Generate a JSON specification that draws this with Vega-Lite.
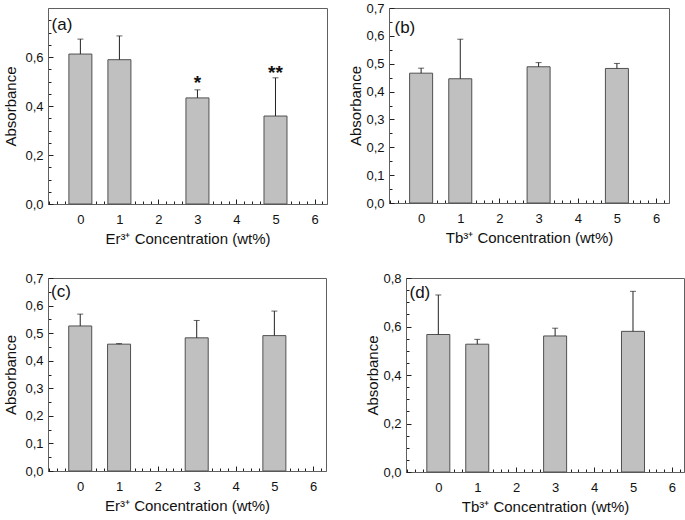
{
  "$schema": "https://vega.github.io/schema/vega-lite/v6.json",
  "padding": {"left": 3, "top": 1, "right": 2, "bottom": 2},
  "background": "white",
  "config": {
    "font": "Liberation Sans",
    "view": {"stroke": "#606060", "strokeWidth": 1},
    "scale": {"continuousPadding": 0},
    "axis": {"domainColor": "#606060", "tickColor": "#202020", "ticks": true, "tickWidth": 1, "tickCount": 100, "labelFont": "Liberation Sans", "labelFontSize": 13, "labelColor": "#111111", "titleFont": "Liberation Sans", "titleFontSize": 15, "titleFontWeight": "normal", "titleColor": "#111111", "grid": false, "labelOverlap": false, "labelFlush": false},
    "axisX": {"labelPadding": 14, "titlePadding": 3},
    "axisY": {"labelPadding": 10, "titlePadding": 2}
  },
  "datasets": {
    "a": [{"conc": 0, "abs": 0.612, "upper": 0.673}, {"conc": 1, "abs": 0.589, "upper": 0.686}, {"conc": 3, "abs": 0.433, "upper": 0.466}, {"conc": 5, "abs": 0.359, "upper": 0.515}],
    "b": [{"conc": 0, "abs": 0.466, "upper": 0.484}, {"conc": 1, "abs": 0.446, "upper": 0.588}, {"conc": 3, "abs": 0.489, "upper": 0.504}, {"conc": 5, "abs": 0.483, "upper": 0.501}],
    "c": [{"conc": 0, "abs": 0.526, "upper": 0.569}, {"conc": 1, "abs": 0.46, "upper": 0.462}, {"conc": 3, "abs": 0.483, "upper": 0.546}, {"conc": 5, "abs": 0.491, "upper": 0.58}],
    "d": [{"conc": 0, "abs": 0.567, "upper": 0.73}, {"conc": 1, "abs": 0.527, "upper": 0.547}, {"conc": 3, "abs": 0.561, "upper": 0.593}, {"conc": 5, "abs": 0.58, "upper": 0.745}],
    "labels": [{"panel": "a", "conc": -0.74, "abs": 0.73, "label": "(a)"}, {"panel": "b", "conc": -0.68, "abs": 0.63, "label": "(b)"}, {"panel": "c", "conc": -0.75, "abs": 0.65, "label": "(c)"}, {"panel": "d", "conc": -0.74, "abs": 0.74, "label": "(d)"}],
    "stars": [{"conc": 3, "abs": 0.47, "label": "*"}, {"conc": 5, "abs": 0.511, "label": "**"}]
  },
  "columns": 1,
  "align": "none",
  "spacing": 24,
  "concat": [
    {
      "spacing": 20,
      "hconcat": [
        {
          "width": 279, "height": 196,
          "encoding": {
            "x": {"field": "conc", "type": "quantitative", "scale": {"domain": [-0.83, 6.32], "nice": false, "zero": false, "padding": 0},
                  "axis": {"title": "Er³⁺ Concentration (wt%)", "tickCount": 100, "labelOverlap": false, "values": [-0.8,-0.6,-0.4,-0.2,0,0.2,0.4,0.6,0.8,1,1.2,1.4,1.6,1.8,2,2.2,2.4,2.6,2.8,3,3.2,3.4,3.6,3.8,4,4.2,4.4,4.6,4.8,5,5.2,5.4,5.6,5.8,6,6.2],
                           "labelExpr": "abs(datum.value-round(datum.value))<0.01 ? format(datum.value,'d') : ''",
                           "tickSize": {"condition": {"test": "abs(datum.value-round(datum.value))<0.01", "value": -5}, "value": -3}}},
            "y": {"field": "abs", "type": "quantitative", "scale": {"domain": [0, 0.8], "nice": false, "padding": 0},
                  "axis": {"title": "Absorbance", "titlePadding": 6, "tickCount": 100, "labelOverlap": false, "values": [0,0.05,0.1,0.15,0.2,0.25,0.3,0.35,0.4,0.45,0.5,0.55,0.6,0.65,0.7,0.75],
                           "labelExpr": "abs(datum.value*5-round(datum.value*5))<0.001 ? replace(format(datum.value,'.1f'),'.',',') : ''",
                           "tickSize": {"condition": {"test": "abs(datum.value*5-round(datum.value*5))<0.001", "value": -5}, "value": -3}}}
          },
          "layer": [
            {"data": {"name": "a"}, "mark": {"type": "bar", "orient": "vertical", "width": 23, "fill": "#c0c0c0", "stroke": "#505050", "strokeWidth": 1}},
            {"data": {"name": "a"}, "mark": {"type": "rule", "color": "#222222", "strokeWidth": 1}, "encoding": {"y2": {"field": "upper"}}},
            {"data": {"name": "a"}, "mark": {"type": "tick", "orient": "horizontal", "color": "#222222", "thickness": 1, "size": 6}, "encoding": {"y": {"field": "upper", "type": "quantitative"}}},
            {"data": {"name": "labels"}, "transform": [{"filter": "datum.panel == 'a'"}], "mark": {"type": "text", "align": "left", "baseline": "middle", "fontSize": 17, "color": "#111111"}, "encoding": {"text": {"field": "label"}}},
            {"data": {"name": "stars"}, "mark": {"type": "text", "align": "center", "baseline": "alphabetic", "fontSize": 19, "fontWeight": "bold", "color": "#111111"}, "encoding": {"text": {"field": "label"}}}
          ]
        },
        {
          "width": 280, "height": 195,
          "encoding": {
            "x": {"field": "conc", "type": "quantitative", "scale": {"domain": [-0.82, 6.33], "nice": false, "zero": false, "padding": 0},
                  "axis": {"title": "Tb³⁺ Concentration (wt%)", "tickCount": 100, "labelOverlap": false, "values": [-0.8,-0.6,-0.4,-0.2,0,0.2,0.4,0.6,0.8,1,1.2,1.4,1.6,1.8,2,2.2,2.4,2.6,2.8,3,3.2,3.4,3.6,3.8,4,4.2,4.4,4.6,4.8,5,5.2,5.4,5.6,5.8,6,6.2],
                           "labelExpr": "abs(datum.value-round(datum.value))<0.01 ? format(datum.value,'d') : ''",
                           "tickSize": {"condition": {"test": "abs(datum.value-round(datum.value))<0.01", "value": -5}, "value": -3}}},
            "y": {"field": "abs", "type": "quantitative", "scale": {"domain": [0, 0.7], "nice": false, "padding": 0},
                  "axis": {"title": "Absorbance", "tickCount": 100, "labelOverlap": false, "values": [0,0.05,0.1,0.15,0.2,0.25,0.3,0.35,0.4,0.45,0.5,0.55,0.6,0.65,0.7],
                           "labelExpr": "abs(datum.value*10-round(datum.value*10))<0.001 ? replace(format(datum.value,'.1f'),'.',',') : ''",
                           "tickSize": {"condition": {"test": "abs(datum.value*10-round(datum.value*10))<0.001", "value": -5}, "value": -3}}}
          },
          "layer": [
            {"data": {"name": "b"}, "mark": {"type": "bar", "orient": "vertical", "width": 23, "fill": "#c0c0c0", "stroke": "#505050", "strokeWidth": 1}},
            {"data": {"name": "b"}, "mark": {"type": "rule", "color": "#222222", "strokeWidth": 1}, "encoding": {"y2": {"field": "upper"}}},
            {"data": {"name": "b"}, "mark": {"type": "tick", "orient": "horizontal", "color": "#222222", "thickness": 1, "size": 6}, "encoding": {"y": {"field": "upper", "type": "quantitative"}}},
            {"data": {"name": "labels"}, "transform": [{"filter": "datum.panel == 'b'"}], "mark": {"type": "text", "align": "left", "baseline": "middle", "fontSize": 17, "color": "#111111"}, "encoding": {"text": {"field": "label"}}}
          ]
        }
      ]
    },
    {
      "spacing": 38,
      "hconcat": [
        {
          "width": 278, "height": 193,
          "encoding": {
            "x": {"field": "conc", "type": "quantitative", "scale": {"domain": [-0.83, 6.33], "nice": false, "zero": false, "padding": 0},
                  "axis": {"title": "Er³⁺ Concentration (wt%)", "tickCount": 100, "labelOverlap": false, "values": [-0.8,-0.6,-0.4,-0.2,0,0.2,0.4,0.6,0.8,1,1.2,1.4,1.6,1.8,2,2.2,2.4,2.6,2.8,3,3.2,3.4,3.6,3.8,4,4.2,4.4,4.6,4.8,5,5.2,5.4,5.6,5.8,6,6.2],
                           "labelExpr": "abs(datum.value-round(datum.value))<0.01 ? format(datum.value,'d') : ''",
                           "tickSize": {"condition": {"test": "abs(datum.value-round(datum.value))<0.01", "value": -5}, "value": -3}}},
            "y": {"field": "abs", "type": "quantitative", "scale": {"domain": [0, 0.7], "nice": false, "padding": 0},
                  "axis": {"title": "Absorbance", "titlePadding": 6, "tickCount": 100, "labelOverlap": false, "values": [0,0.05,0.1,0.15,0.2,0.25,0.3,0.35,0.4,0.45,0.5,0.55,0.6,0.65,0.7],
                           "labelExpr": "abs(datum.value*10-round(datum.value*10))<0.001 ? replace(format(datum.value,'.1f'),'.',',') : ''",
                           "tickSize": {"condition": {"test": "abs(datum.value*10-round(datum.value*10))<0.001", "value": -5}, "value": -3}}}
          },
          "layer": [
            {"data": {"name": "c"}, "mark": {"type": "bar", "orient": "vertical", "width": 23, "fill": "#c0c0c0", "stroke": "#505050", "strokeWidth": 1}},
            {"data": {"name": "c"}, "mark": {"type": "rule", "color": "#222222", "strokeWidth": 1}, "encoding": {"y2": {"field": "upper"}}},
            {"data": {"name": "c"}, "mark": {"type": "tick", "orient": "horizontal", "color": "#222222", "thickness": 1, "size": 6}, "encoding": {"y": {"field": "upper", "type": "quantitative"}}},
            {"data": {"name": "labels"}, "transform": [{"filter": "datum.panel == 'c'"}], "mark": {"type": "text", "align": "left", "baseline": "middle", "fontSize": 17, "color": "#111111"}, "encoding": {"text": {"field": "label"}}}
          ]
        },
        {
          "width": 278, "height": 194,
          "encoding": {
            "x": {"field": "conc", "type": "quantitative", "scale": {"domain": [-0.83, 6.31], "nice": false, "zero": false, "padding": 0},
                  "axis": {"title": "Tb³⁺ Concentration (wt%)", "tickCount": 100, "labelOverlap": false, "values": [-0.8,-0.6,-0.4,-0.2,0,0.2,0.4,0.6,0.8,1,1.2,1.4,1.6,1.8,2,2.2,2.4,2.6,2.8,3,3.2,3.4,3.6,3.8,4,4.2,4.4,4.6,4.8,5,5.2,5.4,5.6,5.8,6,6.2],
                           "labelExpr": "abs(datum.value-round(datum.value))<0.01 ? format(datum.value,'d') : ''",
                           "tickSize": {"condition": {"test": "abs(datum.value-round(datum.value))<0.01", "value": -5}, "value": -3}}},
            "y": {"field": "abs", "type": "quantitative", "scale": {"domain": [0, 0.8], "nice": false, "padding": 0},
                  "axis": {"title": "Absorbance", "tickCount": 100, "labelOverlap": false, "values": [0,0.05,0.1,0.15,0.2,0.25,0.3,0.35,0.4,0.45,0.5,0.55,0.6,0.65,0.7,0.75,0.8],
                           "labelExpr": "abs(datum.value*5-round(datum.value*5))<0.001 ? replace(format(datum.value,'.1f'),'.',',') : ''",
                           "tickSize": {"condition": {"test": "abs(datum.value*5-round(datum.value*5))<0.001", "value": -5}, "value": -3}}}
          },
          "layer": [
            {"data": {"name": "d"}, "mark": {"type": "bar", "orient": "vertical", "width": 23, "fill": "#c0c0c0", "stroke": "#505050", "strokeWidth": 1}},
            {"data": {"name": "d"}, "mark": {"type": "rule", "color": "#222222", "strokeWidth": 1}, "encoding": {"y2": {"field": "upper"}}},
            {"data": {"name": "d"}, "mark": {"type": "tick", "orient": "horizontal", "color": "#222222", "thickness": 1, "size": 6}, "encoding": {"y": {"field": "upper", "type": "quantitative"}}},
            {"data": {"name": "labels"}, "transform": [{"filter": "datum.panel == 'd'"}], "mark": {"type": "text", "align": "left", "baseline": "middle", "fontSize": 17, "color": "#111111"}, "encoding": {"text": {"field": "label"}}}
          ]
        }
      ]
    }
  ]
}
